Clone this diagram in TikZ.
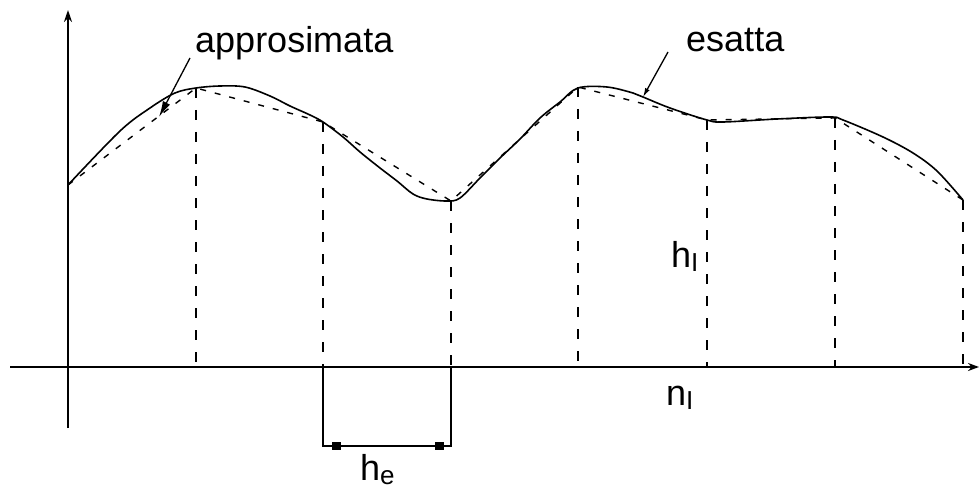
\documentclass[tikz,border=0pt]{standalone}
\usepackage{fontspec}
\setmainfont{Liberation Sans}
\usetikzlibrary{arrows.meta}
\newcommand{\subtxt}[1]{\raisebox{-4pt}{\fontsize{26}{28}\selectfont #1}}
\tikzset{
  axisline/.style={line width=2.2pt},
  exact/.style={line width=1.6pt},
  approx/.style={line width=1.4pt, dash pattern=on 6pt off 9pt},
  vdash/.style={line width=2pt, dash pattern=on 10pt off 12pt},
  lbl/.style={font=\fontsize{36}{40}\selectfont, inner sep=0pt, anchor=base west},
  sq/.style={fill=black, minimum width=9pt, minimum height=8pt, inner sep=0pt}
}
\begin{document}
\begin{tikzpicture}[x=1pt,y=-1pt]
\useasboundingbox (0,0) rectangle (979,489);
% nodal points on the curve
\coordinate (p0) at (68,185);
\coordinate (p1) at (196,88);
\coordinate (p2) at (323,122);
\coordinate (p3) at (451,201);
\coordinate (p4) at (578,87);
\coordinate (p5) at (707,120);
\coordinate (p6) at (835,118);
\coordinate (p7) at (963,200);
% feet on the axis
\coordinate (b1) at (196,367);
\coordinate (b2) at (323,367);
\coordinate (b3) at (451,367);
\coordinate (b4) at (578,367);
\coordinate (b5) at (707,367);
\coordinate (b6) at (835,367);
\coordinate (b7) at (963,367);
% axes
\coordinate (xl) at (10,367);
\coordinate (xr) at (979,367);
\coordinate (yb) at (68,428);
\coordinate (yt) at (68,10);
\draw[axisline,-{Stealth[length=11pt,width=8pt]}] (xl) -- (xr);
\draw[axisline,-{Stealth[length=12pt,width=8pt]}] (yb) -- (yt);
% dashed verticals
\foreach \i in {1,...,7} \draw[vdash] (p\i) -- (b\i);
% approximate (piecewise linear)
\draw[approx] (p0) -- (p1) -- (p2) -- (p3) -- (p4) -- (p5) -- (p6) -- (p7);
% exact curve
\draw[exact] plot[smooth, tension=0.55] coordinates {
 (68,185) (120,131) (150,108) (175,93) (196,88) (220,86) (245,87)
 (270,96) (290,106) (310,115) (323,122) (343,137) (360,152) (380,168)
 (397,181) (413,194) (427,199) (447,201) (460,198) (480,178) (500,158)
 (520,139) (540,118) (560,102) (578,88) (607,87) (633,93) (643,97)
 (670,108) (707,120) (723,122) (777,119) (830,117) (843,120) (883,137)
 (913,153) (937,171) (963,200)};
% h_e dimension
\coordinate (d1) at (323,446);
\coordinate (d2) at (451,446);
\draw[axisline] (b2) -- (d1) -- (d2) -- (b3);
\node[sq] (s1) at (336,446) {};
\node[sq] (s2) at (439,446) {};
% labels
\node[lbl] (tapp) at (195,53) {approsimata};
\node[lbl] (tes) at (686,52) {esatta};
\node[lbl] (the) at (360,480) {h\subtxt{e}};
\node[lbl] (thi) at (671,267) {h\subtxt{I}};
\node[lbl] (tni) at (666,405) {n\subtxt{I}};
% leaders
\coordinate (a1) at (190,58);
\coordinate (a2) at (159,117);
\coordinate (e1) at (668,52);
\coordinate (e2) at (643,97);
\draw[line width=1.3pt,-{Latex[length=16pt,width=8pt]}] (a1) -- (a2);
\draw[line width=1.3pt,-{Latex[length=9pt,width=5pt]}] (e1) -- (e2);
\end{tikzpicture}
\end{document}
